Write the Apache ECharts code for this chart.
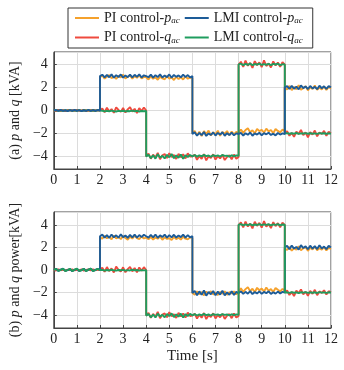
<!DOCTYPE html>
<html>
<head>
<meta charset="utf-8">
<script src="https://cdn.jsdelivr.net/npm/echarts@6/dist/echarts.min.js"></script>
<style>
  html, body { margin: 0; padding: 0; background: #fff; }
  #chart { width: 344px; height: 370px; }
</style>
</head>
<body>
<div id="chart"></div>
<script>
const segStarts = [0, 2, 4, 6, 8, 10]
const xTicks = [0, 1, 2, 3, 4, 5, 6, 7, 8, 9, 10, 11, 12]
const yTicks = [-4, -2, 0, 2, 4]

// (a) one row per 2 s segment, 0.1 s apart, both ends included
const piPa = [
  [0.02, -0.05, 0.06, -0.03, 0.04, -0.06, 0.01, 0.05, -0.04, 0.03, -0.02, 0.06, -0.05, 0.02, 0.04, -0.03, 0.05, -0.06, 0.03, -0.01, 0.02],
  [2.9, 3.05, 2.78, 2.95, 3.1, 2.82, 2.97, 2.75, 3.02, 2.88, 3.12, 2.8, 2.94, 3.06, 2.77, 2.99, 2.85, 3.08, 2.79, 2.93, 2.9],
  [2.85, 2.7, 2.98, 2.76, 2.9, 2.68, 2.95, 2.8, 2.72, 3.0, 2.78, 2.88, 2.66, 2.94, 2.74, 2.9, 2.7, 2.97, 2.77, 2.86, 2.84],
  [-2.0, -1.78, -2.15, -1.85, -2.22, -1.8, -2.05, -1.75, -2.18, -1.9, -2.1, -1.76, -2.2, -1.88, -2.02, -1.79, -2.16, -1.83, -2.08, -1.86, -1.95],
  [-1.85, -1.65, -1.95, -1.7, -1.55, -1.9, -1.72, -2.0, -1.6, -1.8, -1.68, -1.93, -1.58, -1.82, -1.7, -1.98, -1.62, -1.78, -1.9, -1.66, -1.8],
  [2.0, 1.82, 2.15, 1.78, 2.05, 1.85, 2.2, 1.8, 1.95, 2.12, 1.76, 2.03, 1.88, 2.18, 1.8, 2.0, 1.84, 2.1, 1.79, 2.06, 1.92]
]
const piQa = [
  [0.01, -0.04, 0.05, -0.02, 0.03, -0.05, 0.04, -0.01, 0.02, -0.04, 0.05, -0.03, 0.01, 0.04, -0.05, 0.02, -0.02, 0.05, -0.04, 0.03, 0.0],
  [0.0, 0.18, -0.15, 0.25, -0.08, 0.12, -0.2, 0.28, 0.05, -0.12, 0.22, -0.18, 0.1, 0.3, -0.1, 0.15, -0.22, 0.2, -0.05, 0.26, 0.0],
  [-4.0, -3.75, -4.2, -3.85, -4.1, -3.7, -4.25, -3.9, -3.8, -4.15, -3.72, -4.05, -3.88, -4.22, -3.78, -4.08, -3.82, -4.18, -3.74, -4.02, -4.0],
  [-4.1, -3.85, -4.3, -3.95, -4.22, -3.8, -4.35, -4.0, -4.15, -3.82, -4.28, -3.98, -4.18, -3.86, -4.32, -4.05, -3.9, -4.25, -3.84, -4.2, -4.05],
  [4.0, 4.25, 3.8, 4.35, 3.9, 4.15, 3.72, 4.3, 3.95, 4.2, 3.78, 4.38, 3.88, 4.1, 3.75, 4.28, 3.92, 4.18, 3.8, 4.22, 4.0],
  [-2.0, -1.8, -2.2, -1.95, -2.3, -1.85, -2.05, -1.7, -2.15, -1.9, -2.35, -1.88, -2.1, -1.75, -2.25, -1.92, -2.05, -1.78, -2.2, -1.86, -2.0]
]
const lmiPa = [
  [0.0, 0.04, -0.04, 0.05, -0.03, 0.02, -0.05, 0.04, -0.02, 0.05, -0.04, 0.03, -0.05, 0.02, -0.03, 0.05, -0.04, 0.03, -0.02, 0.04, 0.0],
  [3.0, 3.12, 2.88, 3.1, 2.9, 3.15, 2.86, 3.08, 2.92, 3.14, 2.87, 3.06, 2.9, 3.13, 2.89, 3.11, 2.93, 3.16, 2.88, 3.07, 3.0],
  [3.0, 2.9, 3.12, 2.87, 3.08, 2.92, 3.15, 2.88, 3.05, 2.9, 3.14, 2.86, 3.1, 2.93, 3.06, 2.89, 3.13, 2.91, 3.09, 2.88, 3.0],
  [-2.05, -1.9, -2.2, -1.95, -2.15, -1.88, -2.22, -2.0, -2.12, -1.92, -2.18, -1.96, -2.1, -1.9, -2.2, -1.98, -2.14, -1.93, -2.16, -2.0, -2.05],
  [-2.05, -1.95, -2.18, -1.98, -2.12, -1.92, -2.2, -2.0, -2.1, -1.94, -2.16, -1.97, -2.08, -1.93, -2.14, -2.02, -2.17, -1.96, -2.1, -1.99, -2.05],
  [2.0, 2.12, 1.88, 2.15, 1.9, 2.08, 1.85, 2.18, 1.95, 2.1, 1.87, 2.14, 1.92, 2.06, 1.86, 2.16, 1.94, 2.11, 1.89, 2.13, 2.02]
]
const lmiQa = [
  [0.0, 0.03, -0.03, 0.02, -0.04, 0.03, -0.02, 0.04, -0.03, 0.01, -0.02, 0.04, -0.04, 0.02, -0.01, 0.03, -0.03, 0.02, -0.04, 0.03, 0.0],
  [-0.05, -0.02, -0.08, -0.03, -0.07, -0.01, -0.06, -0.09, -0.03, -0.05, -0.02, -0.08, -0.04, -0.06, -0.01, -0.07, -0.03, -0.09, -0.04, -0.06, -0.05],
  [-4.0, -3.85, -4.15, -3.9, -4.2, -3.82, -4.1, -3.95, -4.18, -3.86, -4.08, -3.8, -4.16, -3.92, -4.12, -3.84, -4.2, -3.9, -4.06, -3.88, -4.0],
  [-3.95, -3.88, -4.02, -3.9, -4.0, -3.87, -3.98, -3.92, -4.03, -3.89, -3.97, -3.91, -4.01, -3.88, -3.96, -3.93, -4.02, -3.9, -3.99, -3.92, -3.95],
  [4.02, 4.08, 3.96, 4.06, 3.98, 4.1, 3.95, 4.05, 4.0, 4.09, 3.97, 4.04, 3.99, 4.07, 3.94, 4.06, 4.01, 4.08, 3.96, 4.03, 4.02],
  [-2.0, -1.97, -2.03, -1.98, -2.02, -1.96, -2.04, -1.99, -2.01, -1.97, -2.03, -1.98, -2.02, -1.99, -2.04, -1.97, -2.01, -1.98, -2.03, -1.99, -2.0]
]

// (b)
const piPb = [
  [0.0, 0.05, -0.04, 0.03, 0.06, -0.05, 0.01, 0.04, -0.06, 0.02, 0.05, -0.03, 0.0, 0.06, -0.05, 0.03, 0.04, -0.04, 0.01, 0.05, 0.0],
  [2.9, 2.78, 3.02, 2.82, 2.95, 2.72, 3.05, 2.8, 2.92, 2.75, 3.0, 2.84, 2.7, 2.96, 2.79, 3.04, 2.83, 2.74, 2.98, 2.8, 2.88],
  [2.85, 2.72, 2.95, 2.7, 2.88, 2.78, 2.97, 2.68, 2.9, 2.76, 2.82, 2.66, 2.94, 2.74, 2.86, 2.7, 2.96, 2.78, 2.72, 2.9, 2.84],
  [-2.05, -2.2, -1.9, -2.15, -1.95, -2.25, -1.92, -2.1, -1.88, -2.18, -2.0, -2.22, -1.94, -2.12, -1.9, -2.2, -1.96, -2.08, -1.9, -2.16, -2.0],
  [-1.85, -1.62, -1.95, -1.7, -1.52, -1.88, -1.66, -1.98, -1.58, -1.8, -1.64, -1.92, -1.55, -1.84, -1.7, -1.96, -1.6, -1.76, -1.9, -1.68, -1.82],
  [1.9, 1.78, 2.05, 1.72, 1.95, 1.8, 2.1, 1.75, 1.92, 2.02, 1.7, 1.98, 1.82, 2.08, 1.76, 1.94, 1.8, 2.04, 1.74, 1.96, 1.88]
]
const piQb = [
  [0.0, -0.04, 0.05, -0.02, 0.04, -0.05, 0.03, -0.01, 0.05, -0.04, 0.02, -0.03, 0.05, -0.05, 0.01, 0.04, -0.03, 0.05, -0.02, 0.03, 0.0],
  [0.0, 0.2, -0.16, 0.26, -0.1, 0.14, -0.22, 0.3, 0.02, -0.14, 0.24, -0.2, 0.08, 0.28, -0.12, 0.18, -0.2, 0.22, -0.06, 0.25, 0.0],
  [-4.05, -3.8, -4.25, -3.9, -4.15, -3.72, -4.28, -3.95, -3.85, -4.2, -3.75, -4.1, -3.92, -4.26, -3.8, -4.12, -3.86, -4.22, -3.78, -4.08, -4.05],
  [-4.12, -3.88, -4.32, -3.96, -4.24, -3.82, -4.36, -4.02, -4.18, -3.85, -4.3, -4.0, -4.2, -3.9, -4.34, -4.06, -3.92, -4.28, -3.86, -4.22, -4.08],
  [3.98, 4.22, 3.78, 4.3, 3.86, 4.12, 3.7, 4.28, 3.92, 4.18, 3.76, 4.34, 3.85, 4.08, 3.72, 4.25, 3.9, 4.16, 3.8, 4.2, 3.98],
  [-2.0, -1.82, -2.22, -1.96, -2.32, -1.84, -2.06, -1.72, -2.16, -1.92, -2.3, -1.86, -2.12, -1.76, -2.24, -1.9, -2.04, -1.8, -2.18, -1.88, -2.0]
]
const lmiPb = [
  [0.0, 0.11, -0.09, 0.03, 0.12, -0.08, -0.01, 0.1, -0.11, 0.02, 0.11, -0.09, -0.01, 0.11, -0.09, 0.03, 0.12, -0.1, 0.01, 0.09, 0.0],
  [3.0, 3.14, 2.88, 3.1, 2.86, 3.15, 2.9, 3.08, 2.87, 3.16, 2.92, 3.06, 2.86, 3.12, 2.9, 3.15, 2.88, 3.1, 2.92, 3.13, 3.0],
  [3.0, 2.88, 3.12, 2.9, 3.15, 2.86, 3.08, 2.92, 3.14, 2.87, 3.1, 2.9, 3.13, 2.88, 3.06, 2.92, 3.15, 2.87, 3.1, 2.9, 3.0],
  [-2.05, -1.85, -2.25, -1.9, -2.2, -1.82, -2.28, -1.95, -2.15, -1.86, -2.24, -1.92, -2.18, -1.84, -2.26, -1.98, -2.2, -1.88, -2.22, -1.94, -2.05],
  [-2.0, -1.9, -2.12, -1.94, -2.1, -1.88, -2.14, -1.96, -2.08, -1.9, -2.12, -1.95, -2.06, -1.89, -2.13, -1.98, -2.1, -1.92, -2.08, -1.94, -2.0],
  [2.0, 2.15, 1.85, 2.18, 1.9, 2.05, 1.82, 2.2, 1.95, 2.1, 1.84, 2.16, 1.9, 2.12, 1.86, 2.2, 1.92, 2.08, 1.85, 2.14, 2.0]
]
const lmiQb = [
  [0.0, 0.1, -0.08, 0.02, 0.11, -0.09, 0.0, 0.1, -0.1, 0.03, 0.12, -0.08, -0.02, 0.1, -0.1, 0.04, 0.11, -0.09, 0.0, 0.1, 0.0],
  [-0.02, 0.01, -0.05, 0.0, -0.04, 0.02, -0.03, -0.06, 0.0, -0.02, 0.01, -0.05, -0.01, -0.04, 0.02, -0.03, 0.0, -0.06, -0.01, -0.03, -0.02],
  [-4.05, -3.9, -4.2, -3.95, -4.22, -3.88, -4.12, -3.98, -4.2, -3.9, -4.1, -3.86, -4.18, -3.94, -4.14, -3.88, -4.22, -3.92, -4.08, -3.9, -4.02],
  [-3.98, -3.92, -4.04, -3.94, -4.02, -3.9, -4.0, -3.95, -4.04, -3.92, -3.99, -3.94, -4.03, -3.91, -3.98, -3.95, -4.03, -3.93, -4.0, -3.94, -3.98],
  [4.02, 4.07, 3.97, 4.05, 3.99, 4.08, 3.96, 4.04, 4.0, 4.07, 3.98, 4.05, 4.0, 4.06, 3.96, 4.05, 4.01, 4.07, 3.97, 4.04, 4.02],
  [-2.0, -1.98, -2.03, -1.97, -2.02, -1.99, -2.04, -1.98, -2.01, -1.96, -2.03, -1.99, -2.02, -1.98, -2.04, -1.97, -2.01, -1.99, -2.03, -1.98, -2.0]
]

const names = ['PI control-p', 'LMI control-p', 'PI control-q', 'LMI control-q']
const colors = {
  'PI control-p': '#f5a12c',
  'LMI control-p': '#1d5c98',
  'PI control-q': '#ef4a3e',
  'LMI control-q': '#1f9d5e'
}
const legendText = {
  'PI control-p': 'PI control-{i|p}{s|ac}',
  'LMI control-p': 'LMI control-{i|p}{s|ac}',
  'PI control-q': 'PI control-{i|q}{s|ac}',
  'LMI control-q': 'LMI control-{i|q}{s|ac}'
}

const font = 'Liberation Serif'

// sample times: each 2 s segment keeps both ends so the steps stay vertical
const time = []
segStarts.forEach(s => {
  for (let i = 0; i <= 20; i++) time.push(+(s + i * 0.1).toFixed(1))
})

function pts(segs) {
  return segs.flat().map((v, i) => [time[i], v])
}

function line(name, segs, idx) {
  return {
    name: name,
    type: 'line',
    xAxisIndex: idx,
    yAxisIndex: idx,
    data: pts(segs),
    showSymbol: false,
    symbol: 'none',
    lineStyle: { width: 1.9, color: colors[name] },
    itemStyle: { color: colors[name] }
  }
}

function fmtY(v) {
  if (!yTicks.includes(v)) return ''
  return v < 0 ? '\u2212' + Math.abs(v) : String(v)
}

function xAxis(idx, withName) {
  return {
    type: 'value',
    gridIndex: idx,
    min: xTicks[0],
    max: xTicks[xTicks.length - 1],
    interval: 1,
    name: withName ? 'Time [s]' : '',
    nameLocation: 'middle',
    nameGap: 21,
    nameTextStyle: { fontFamily: font, fontSize: 15, color: '#222' },
    axisLine: { show: true, onZero: false, lineStyle: { color: '#444' } },
    axisTick: { show: true, inside: true, length: 3, lineStyle: { color: '#444' } },
    axisLabel: { fontFamily: font, fontSize: 14, color: '#222', margin: 4 },
    splitLine: { show: true, lineStyle: { color: '#dcdcdc', width: 1 } }
  }
}

function yAxis(idx, lim, title) {
  return {
    type: 'value',
    gridIndex: idx,
    min: -lim,
    max: lim,
    splitNumber: 5,
    name: title,
    nameLocation: 'middle',
    nameGap: 31,
    nameTextStyle: {
      fontFamily: font, fontSize: 14, color: '#222',
      rich: { i: { fontFamily: font, fontSize: 14, fontStyle: 'italic', color: '#222' } }
    },
    axisLine: { show: true, onZero: false, lineStyle: { color: '#444' } },
    axisTick: { show: true, inside: true, length: 3, lineStyle: { color: '#444' } },
    axisLabel: {
      fontFamily: font, fontSize: 14, color: '#222', margin: 6,
      showMinLabel: false, showMaxLabel: false,
      formatter: fmtY
    },
    splitLine: { show: true, lineStyle: { color: '#dcdcdc', width: 1 } }
  }
}

const chart = echarts.init(document.getElementById('chart'), null, { renderer: 'canvas' })

chart.setOption({
  animation: false,
  backgroundColor: '#fff',
  legend: {
    data: names,
    left: 68,
    top: 8,
    width: 240,
    padding: [3, 10, 3, 7],
    itemGap: 5,
    itemWidth: 24,
    itemHeight: 2,
    icon: 'rect',
    borderColor: '#333',
    borderWidth: 1,
    backgroundColor: '#fff',
    formatter: n => legendText[n],
    textStyle: {
      fontFamily: font,
      fontSize: 14,
      color: '#222',
      rich: {
        i: { fontFamily: font, fontSize: 14, fontStyle: 'italic', color: '#222' },
        s: { fontFamily: font, fontSize: 9, fontStyle: 'italic', color: '#222', padding: [6, 0, 0, 0] }
      }
    }
  },
  grid: [
    { left: 50, right: 13, top: 52, height: 117, show: true, borderColor: '#444', borderWidth: 1 },
    { left: 50, right: 13, top: 212, height: 116, show: true, borderColor: '#444', borderWidth: 1 }
  ],
  xAxis: [xAxis(0, false), xAxis(1, true)],
  yAxis: [
    yAxis(0, 5.1, '(a) {i|p} and {i|q} [kVA]'),
    yAxis(1, 5.15, '(b) {i|p} and {i|q} power[kVA]')
  ],
  series: [
    line('PI control-p', piPa, 0),
    line('PI control-q', piQa, 0),
    line('LMI control-q', lmiQa, 0),
    line('LMI control-p', lmiPa, 0),
    line('PI control-p', piPb, 1),
    line('PI control-q', piQb, 1),
    line('LMI control-p', lmiPb, 1),
    line('LMI control-q', lmiQb, 1)
  ]
})
</script>
</body>
</html>
